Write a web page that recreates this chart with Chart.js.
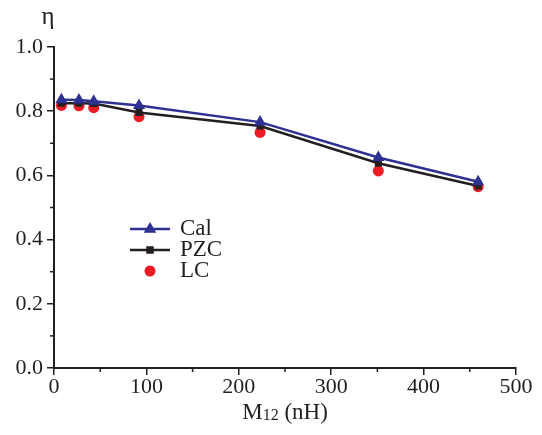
<!DOCTYPE html>
<html>
<head>
<meta charset="utf-8">
<script src="https://cdn.jsdelivr.net/npm/chart.js@4.4.1/dist/chart.umd.min.js"></script>
<style>
  html, body { margin: 0; padding: 0; background: #fff; }
  #wrap { width: 542px; height: 435px; }
</style>
</head>
<body>
<div id="wrap"><canvas id="myChart" width="542" height="435"></canvas></div>
<script>
// values
const m12 = [8, 27, 43, 92, 223, 351, 459];
const calValues = [0.836, 0.835, 0.831, 0.818, 0.766, 0.656, 0.580];
const pzcValues = [0.825, 0.825, 0.824, 0.796, 0.754, 0.638, 0.567];
const lcValues = [0.818, 0.817, 0.811, 0.783, 0.734, 0.614, 0.565];
const xTicks = [0, 100, 200, 300, 400, 500];
const yTicks = [0.0, 0.2, 0.4, 0.6, 0.8, 1.0];

const ink = '#231f20';
const serif = '"Liberation Serif", "Times New Roman", serif';

const toPoints = (vals) => vals.map((v, i) => ({ x: m12[i], y: v }));

// minor ticks, legend, axis titles
const extras = {
    id: 'extras',
    afterDraw(chart) {
        const ctx = chart.ctx;
        const xs = chart.scales.x, ys = chart.scales.y;
        const area = chart.chartArea;
        ctx.save();
        ctx.strokeStyle = ink;
        ctx.lineWidth = 1.5;
        // minor ticks
        for (let i = 0; i < xTicks.length - 1; i++) {
            const px = xs.getPixelForValue((xTicks[i] + xTicks[i + 1]) / 2);
            ctx.beginPath();
            ctx.moveTo(px, area.bottom);
            ctx.lineTo(px, area.bottom + 4);
            ctx.stroke();
        }
        for (let i = 0; i < yTicks.length - 1; i++) {
            const py = ys.getPixelForValue((yTicks[i] + yTicks[i + 1]) / 2);
            ctx.beginPath();
            ctx.moveTo(area.left, py);
            ctx.lineTo(area.left - 4, py);
            ctx.stroke();
        }

        // legend
        const lx = 130, ly = 229;
        ctx.font = '23px ' + serif;
        ctx.textBaseline = 'middle';
        chart.data.datasets.forEach((ds, i) => {
            const y = ly + i * 21;
            if (ds.showLine !== false) {
                ctx.strokeStyle = ds.borderColor;
                ctx.lineWidth = 2.5;
                ctx.beginPath();
                ctx.moveTo(lx, y);
                ctx.lineTo(lx + 40, y);
                ctx.stroke();
            }
            ctx.fillStyle = ds.pointBackgroundColor;
            const r = ds.pointRadius;
            ctx.beginPath();
            if (ds.pointStyle === 'triangle') {
                ctx.moveTo(lx + 20, y - r);
                ctx.lineTo(lx + 20 + r * 0.9, y + r * 0.55);
                ctx.lineTo(lx + 20 - r * 0.9, y + r * 0.55);
                ctx.closePath();
            } else if (ds.pointStyle === 'rect') {
                ctx.rect(lx + 20 - r * 0.75, y - r * 0.75, r * 1.5, r * 1.5);
            } else {
                ctx.arc(lx + 20, y, r, 0, Math.PI * 2);
            }
            ctx.fill();
            ctx.fillStyle = ink;
            ctx.textAlign = 'left';
            ctx.fillText(ds.label, lx + 50, y);
        });

        // y title
        ctx.font = '25px ' + serif;
        ctx.textAlign = 'center';
        ctx.fillText('η', 48, 17);

        // x title with small 12
        const cx = (area.left + area.right) / 2;
        const ty = 413;
        ctx.textAlign = 'left';
        ctx.font = '23px ' + serif;
        const wM = ctx.measureText('M').width;
        const rest = ' (nH)';
        const wRest = ctx.measureText(rest).width;
        ctx.font = '16px ' + serif;
        const w12 = ctx.measureText('12').width;
        const x0 = cx - (wM + w12 + wRest) / 2;
        ctx.font = '23px ' + serif;
        ctx.fillText('M', x0, ty);
        ctx.font = '16px ' + serif;
        ctx.fillText('12', x0 + wM, ty + 3);
        ctx.font = '23px ' + serif;
        ctx.fillText(rest, x0 + wM + w12, ty);
        ctx.restore();
    }
};

new Chart(document.getElementById('myChart'), {
    type: 'scatter',
    data: {
        datasets: [
            {
                label: 'Cal',
                data: toPoints(calValues),
                showLine: true,
                borderColor: '#2e3192',
                backgroundColor: '#2e3192',
                pointBackgroundColor: '#2e3192',
                pointBorderWidth: 0,
                borderWidth: 2.5,
                pointStyle: 'triangle',
                pointRadius: 7,
                order: 1
            },
            {
                label: 'PZC',
                data: toPoints(pzcValues),
                showLine: true,
                borderColor: '#231f20',
                backgroundColor: '#231f20',
                pointBackgroundColor: '#231f20',
                pointBorderWidth: 0,
                borderWidth: 2.5,
                pointStyle: 'rect',
                pointRadius: 5,
                order: 2
            },
            {
                label: 'LC',
                data: toPoints(lcValues),
                showLine: false,
                borderColor: '#ed1c24',
                backgroundColor: '#ed1c24',
                pointBackgroundColor: '#ed1c24',
                pointBorderWidth: 0,
                pointStyle: 'circle',
                pointRadius: 5.5,
                order: 3
            }
        ]
    },
    options: {
        responsive: false,
        animation: false,
        layout: { padding: { left: 0, right: 26, top: 47, bottom: 0 } },
        plugins: { legend: { display: false }, tooltip: { enabled: false } },
        scales: {
            x: {
                type: 'linear',
                min: 0,
                max: 500,
                afterBuildTicks: (s) => { s.ticks = xTicks.map(v => ({ value: v })); },
                afterFit: (s) => { s.height = 67; },
                border: { color: ink, width: 2 },
                grid: { drawOnChartArea: false, drawTicks: true, tickLength: 7, tickColor: ink, lineWidth: 1.5 },
                ticks: { color: ink, font: { family: serif, size: 22 }, padding: -1, maxRotation: 0 }
            },
            y: {
                type: 'linear',
                min: 0,
                max: 1.0,
                afterBuildTicks: (s) => { s.ticks = yTicks.map(v => ({ value: v })); },
                afterFit: (s) => { s.width = 54; },
                border: { color: ink, width: 2 },
                grid: { drawOnChartArea: false, drawTicks: true, tickLength: 7, tickColor: ink, lineWidth: 1.5 },
                ticks: { color: ink, font: { family: serif, size: 22 }, padding: 4, callback: (v) => v.toFixed(1) }
            }
        }
    },
    plugins: [extras]
});
</script>
</body>
</html>
